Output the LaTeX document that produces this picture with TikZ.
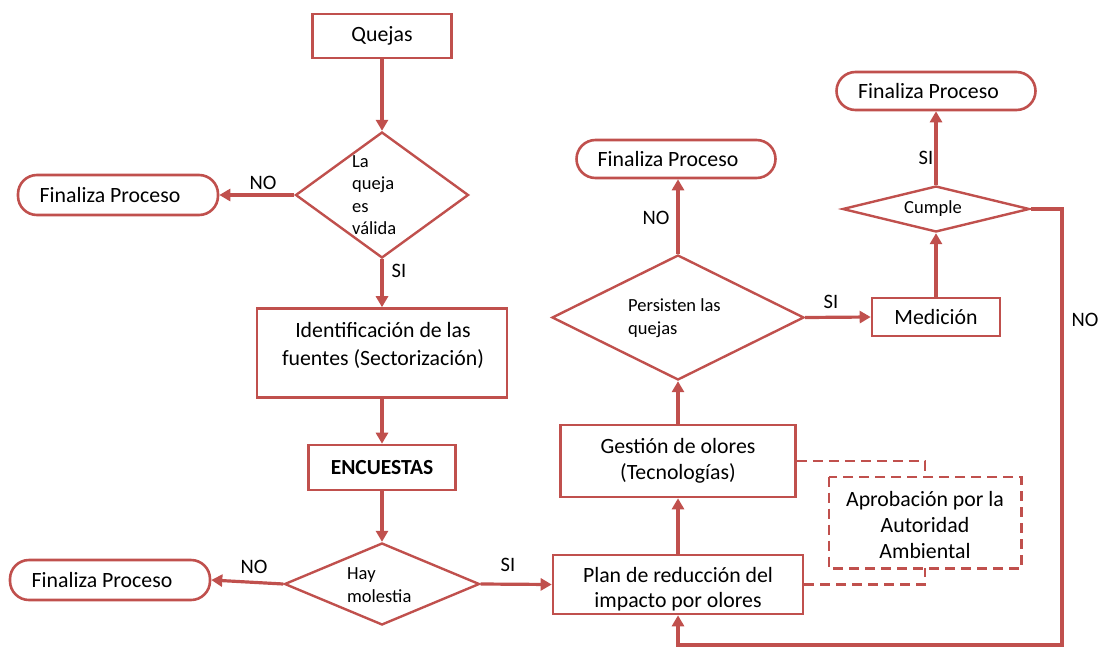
\documentclass[tikz,border=0pt]{standalone}
\usepackage{fontspec}
\setmainfont{Carlito}
\usetikzlibrary{arrows.meta,shapes.geometric}
\definecolor{rd}{HTML}{C0504D}
\begin{document}
\begin{tikzpicture}[x=1pt,y=-1pt,
  box/.style={draw=rd, line width=2.6pt, inner sep=0pt, align=center, font=\fontsize{21.8}{26}\selectfont},
  endbox/.style={box, rounded corners=19pt},
  dia/.style={draw=rd, line width=2.4pt, diamond, inner sep=0pt},
  txt/.style={inner sep=0pt, align=left, font=\fontsize{18.5}{22.5}\selectfont},
  btxt/.style={inner sep=0pt, align=center},
  arr/.style={draw=rd, line width=3.2pt, -{Triangle[length=11pt,width=12pt]}},
  dsh/.style={draw=rd, line width=2.4pt, dash pattern=on 10pt off 6pt},
  lab/.style={font=\fontsize{20.5}{24}\selectfont, inner sep=0pt}
]
\useasboundingbox (0,0) rectangle (1100,648);
% left column
\node[box, minimum width=139pt, minimum height=44pt] (q) at (382,36) {Quejas};
\node[dia, minimum width=173pt, minimum height=126pt] (d1) at (382,195) {};
\node[txt, anchor=west] (d1t) at (352,195) {La\\queja\\es\\válida};
\node[endbox, minimum width=200pt, minimum height=40pt] (f1) at (118,195) {Finaliza Proceso\hspace*{16pt}};
\node[box, minimum width=250pt, minimum height=89pt] (id) at (382,353) {};
\node[btxt, font=\fontsize{21.8}{28}\selectfont] (idt) at (383,345) {Identificación de las\\fuentes (Sectorización)};
\node[box, minimum width=147pt, minimum height=45pt, font=\fontsize{21.5}{24}\bfseries] (en) at (382,467.5) {ENCUESTAS};
\node[dia, minimum width=195pt, minimum height=82pt] (d2) at (382,584) {};
\node[txt, anchor=west] (d2t) at (347,585) {Hay\\molestia};
\node[endbox, minimum width=200pt, minimum height=40pt] (f3) at (110,580) {Finaliza Proceso\hspace*{16pt}};
% middle column
\node[box, minimum width=250pt, minimum height=59pt] (pl) at (678,584.5) {};
\node[btxt, font=\fontsize{21.8}{25}\selectfont] (plt) at (678,589) {Plan de reducción del\\impacto por olores};
\node[box, minimum width=235pt, minimum height=72pt] (ge) at (678,461) {Gestión de olores\\(Tecnologías)};
\node[dia, minimum width=252pt, minimum height=125pt] (pe) at (678,317.5) {};
\node[txt, anchor=west] (pet) at (628,318) {Persisten las\\quejas};
\node[endbox, minimum width=199pt, minimum height=38pt] (f2) at (676,159) {Finaliza Proceso\hspace*{16pt}};
% right column
\node[box, minimum width=128pt, minimum height=38pt] (me) at (936,317) {Medición};
\node[dia, minimum width=187pt, minimum height=46pt] (cu) at (936,209) {};
\node[txt] (cut) at (933,209) {Cumple};
\node[endbox, minimum width=199pt, minimum height=38pt] (f4) at (936,91) {Finaliza Proceso\hspace*{15pt}};
\node[box, draw=none, minimum width=190pt, minimum height=89pt] (ap) at (925,522.5) {};
\draw[dsh] (ap.north west) rectangle (ap.south east);
\node[btxt, font=\fontsize{21.8}{26}\selectfont] (apt) at (925,525) {Aprobación por la\\Autoridad\\Ambiental};
\coordinate (c1) at (1062,645);
% connectors
\draw[arr] (q.south) -- (d1.north);
\draw[arr] (d1.west) -- (f1.east);
\draw[arr] (d1.south) -- (id.north);
\draw[arr] (id.south) -- (en.north);
\draw[arr] (en.south) -- (d2.north);
\draw[arr] (d2.west) -- (f3.east);
\draw[arr] (d2.east) -- (pl.west);
\draw[arr] (pl.north) -- (ge.south);
\draw[arr] (ge.north) -- (pe.south);
\draw[arr] (pe.north) -- (pe.north |- f2.south);
\draw[arr] (pe.east) -- (me.west);
\draw[arr] (me.north) -- (cu.south);
\draw[arr] (cu.north) -- (f4.south);
\draw[arr] (cu.east) -| (c1) -| (pl.south);
\draw[dsh] (ge.east) -| (ap.north);
\draw[dsh] (pl.east) -| (ap.south);
% labels
\node[lab] (l1) at (263,183) {NO};
\node[lab] (l2) at (399,271) {SI};
\node[lab] (l3) at (254,567) {NO};
\node[lab] (l4) at (508,565) {SI};
\node[lab] (l5) at (656,218) {NO};
\node[lab] (l6) at (831,302) {SI};
\node[lab] (l7) at (926,158) {SI};
\node[lab] (l8) at (1085,320) {NO};
\end{tikzpicture}
\end{document}
